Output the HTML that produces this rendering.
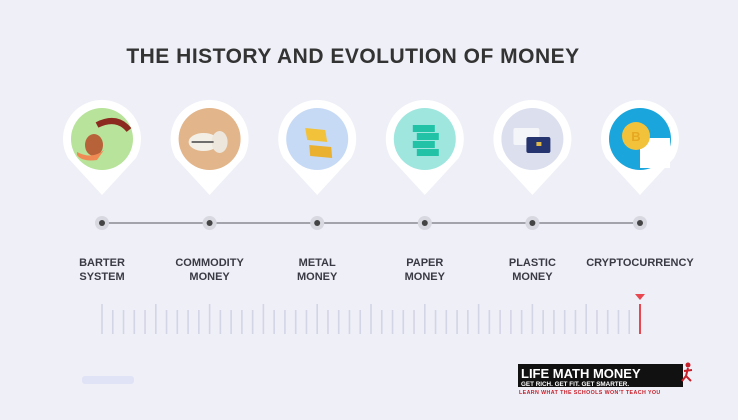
<!DOCTYPE html>
<html><head><meta charset="utf-8"><style>
body{margin:0;background:#eeeff7;}
svg{display:block;font-family:"Liberation Sans",sans-serif;}
</style></head><body>
<svg width="738" height="420" viewBox="0 0 738 420">
<rect width="738" height="420" fill="#eeeff7"/>
<text x="353" y="63" text-anchor="middle" font-size="21" font-weight="bold" fill="#333" letter-spacing="0.5">THE HISTORY AND EVOLUTION OF MONEY</text>
<line x1="102" y1="223" x2="640" y2="223" stroke="#8a8a93" stroke-width="1.5"/>
<g id="pins"></g>
<g id="ticks"></g>
<path d="M635 294 L645 294 L640 300 Z" fill="#e8474f"/>
<rect x="82" y="376" width="52" height="8" rx="3" fill="#dfe3f5"/>
<g>
<rect x="518" y="364" width="165" height="23" fill="#111"/>
<rect x="665" y="372" width="12" height="15" fill="#111"/>
<text x="521" y="378" font-size="13" font-weight="bold" fill="#fff">LIFE MATH MONEY</text>
<text x="521" y="386" font-size="6.3" font-weight="bold" fill="#fff">GET RICH. GET FIT. GET SMARTER.</text>
<text x="519" y="394" font-size="5.3" font-weight="bold" fill="#c8202a" letter-spacing="0.4">LEARN WHAT THE SCHOOLS WON'T TEACH YOU</text>
<circle cx="688" cy="365" r="2.5" fill="#c8202a"/>
<path d="M688 368 L686 376 L682 381 M686 376 L691 381 M684 371 L692 370" stroke="#c8202a" stroke-width="2" fill="none"/>
</g>
</svg>
<script>
const labels=[["BARTER","SYSTEM"],["COMMODITY","MONEY"],["METAL","MONEY"],["PAPER","MONEY"],["PLASTIC","MONEY"],["CRYPTOCURRENCY"]];
const fills=["#b7e39a","#e2b58a","#c7daf5","#9fe6df","#dcdfee","#1aa6dc"];
const tickCount=51;
const NS="http://www.w3.org/2000/svg";
function mk(t,a,p){const e=document.createElementNS(NS,t);for(const k in a)e.setAttribute(k,a[k]);p.appendChild(e);return e;}
const xs=i=>102+i*107.6;
const pins=document.getElementById('pins');
labels.forEach((l,i)=>{
 const x=xs(i);
 const g=mk('g',{},pins);
 
 
 mk('path',{d:`M${x-34} ${158} A39 39 0 1 1 ${x+34} 158 L${x} 195 Z`,fill:'#fff'},g);
 mk('circle',{cx:x,cy:139,r:31,fill:fills[i]},g);
 if(i==0){mk('ellipse',{cx:x-8,cy:145,rx:9,ry:11,fill:'#b8623a'},g);mk('path',{d:`M${x-25} ${152} Q${x-10} ${160} ${x+2} ${150} L${x-5} ${160} Q${x-20} ${162} ${x-25} 155Z`,fill:'#f08a55'},g);mk('path',{d:`M${x-5} ${125} Q${x+15} ${115} ${x+27} ${130}`,stroke:'#8c2a1f',"stroke-width":6,fill:'none'},g);}
 if(i==1){mk('ellipse',{cx:x-6,cy:142,rx:15,ry:9,fill:'#f4efe6'},g);mk('ellipse',{cx:x+10,cy:142,rx:8,ry:11,fill:'#ece6dc'},g);mk('line',{x1:x-18,y1:142,x2:x+4,y2:142,stroke:'#444',"stroke-width":1.5},g);}
 if(i==2){mk('path',{d:`M${x-12} ${128} L${x+8} ${130} L${x+10} ${142} L${x-10} ${140}Z`,fill:'#f2c23b'},g);mk('path',{d:`M${x-8} ${145} L${x+14} ${147} L${x+15} ${158} L${x-7} ${156}Z`,fill:'#eab030'},g);}
 if(i==3){for(let k=0;k<4;k++)mk('rect',{x:x-12+(k%2)*4,y:125+k*8,width:22,height:7,fill:'#22c2a6'},g);}
 if(i==4){mk('rect',{x:x-19,y:128,width:26,height:17,rx:2,fill:'#f4f5f8'},g);mk('rect',{x:x-6,y:137,width:24,height:16,rx:2,fill:'#25346e'},g);mk('rect',{x:x+4,y:142,width:5,height:4,fill:'#e0b84a'},g);}
 if(i==5){mk('rect',{x:x,y:138,width:30,height:30,fill:'#fff'},g);mk('circle',{cx:x-4,cy:136,r:14,fill:'#f2c23b'},g);mk('text',{x:x-4,y:141,"text-anchor":'middle',"font-size":13,"font-weight":'bold',fill:'#e6a820'},g).textContent='B';}
 mk('circle',{cx:x,cy:223,r:7,fill:'#d8d9e0'},g);
 mk('circle',{cx:x,cy:223,r:3,fill:'#444'},g);
 l.forEach((s,j)=>{const t=mk('text',{x:x,y:266+j*14,"text-anchor":'middle',"font-size":11,"font-weight":'bold',fill:'#3a3a44'},g);t.textContent=s;});
});
const ticks=document.getElementById('ticks');
for(let i=0;i<tickCount;i++){
 const x=102+i*(538/(tickCount-1));
 const last=i==tickCount-1,long=i%5==0;
 const t=mk('line',{x1:x,y1:long||last?304:310,x2:x,y2:334,stroke:last?'#e8474f':'#d3d4e6',"stroke-width":last?2:1.6},ticks);
 
 
}
</script>
</body></html>
